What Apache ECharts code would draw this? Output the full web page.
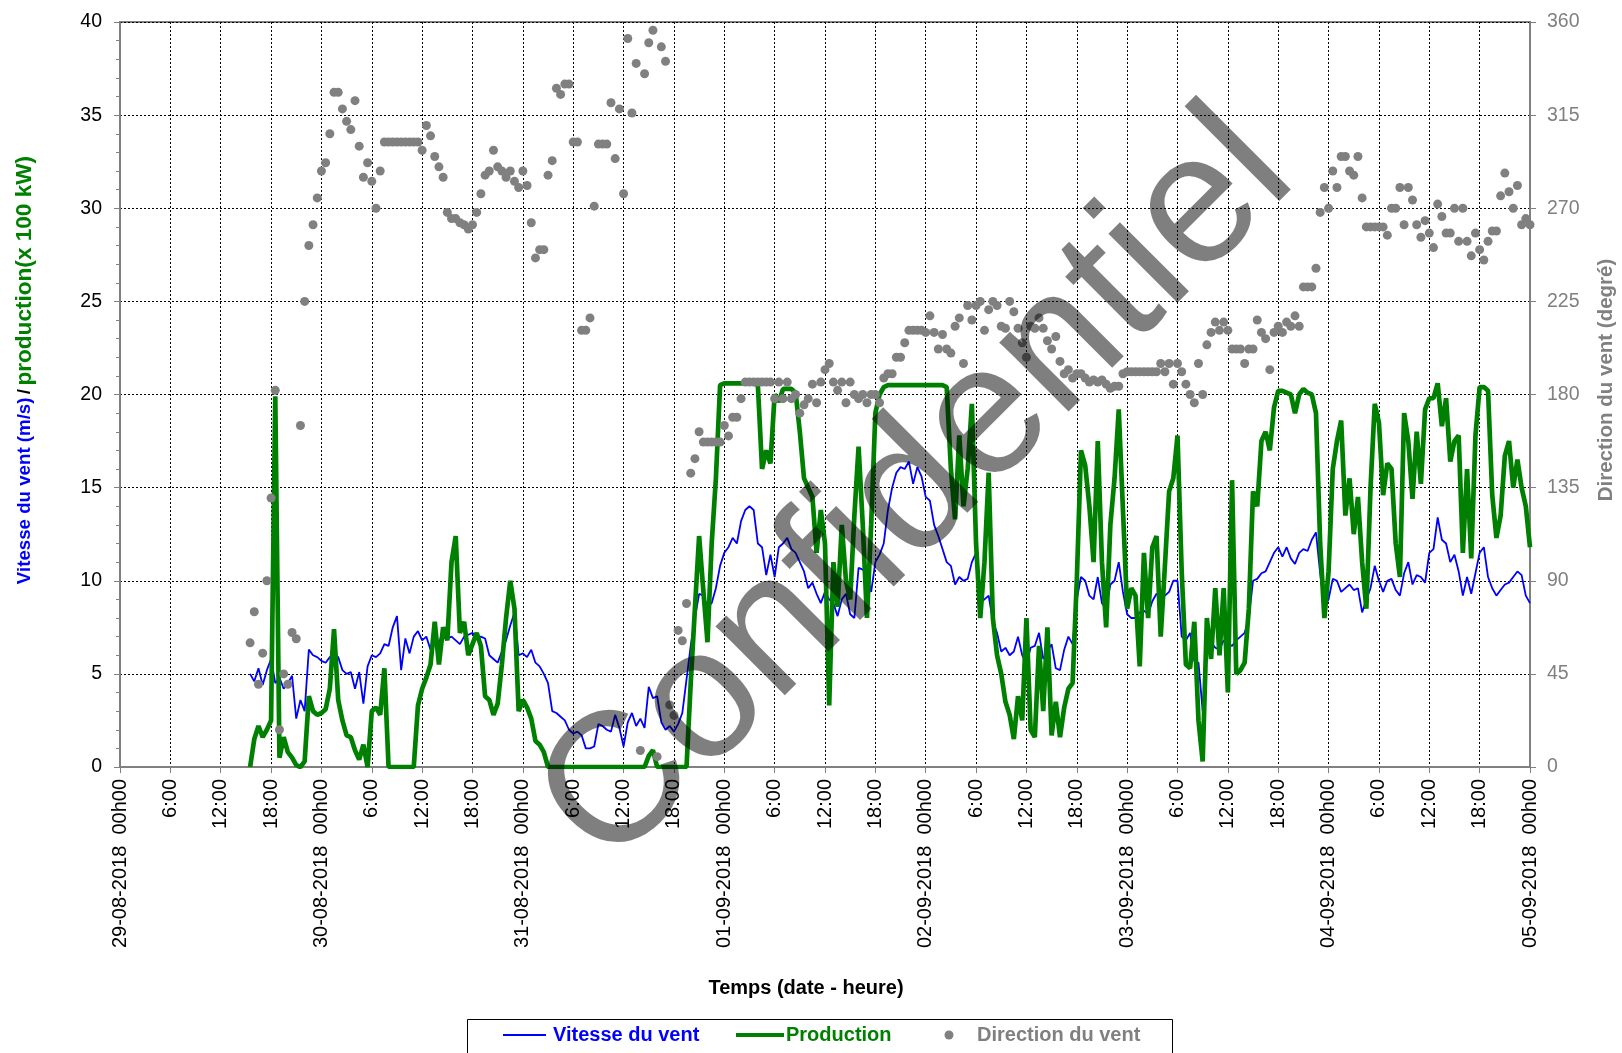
<!DOCTYPE html>
<html>
<head>
<meta charset="utf-8">
<script src="https://cdn.jsdelivr.net/npm/echarts@6/dist/echarts.min.js"></script>
<style>
html,body{margin:0;padding:0;background:#fff;}
#chart{width:1622px;height:1053px;}
</style>
</head>
<body>
<div id="chart"></div>
<script>
// ---- time axis (hours since 29-08-2018 00h00), 30-min samples from 15h30 ----
const startHour = 15.5;
const stepHour = 0.5;
const dayLabels = ['29-08-2018','30-08-2018','31-08-2018','01-09-2018','02-09-2018','03-09-2018','04-09-2018','05-09-2018'];
const hourLabels = ['00h00','6:00','12:00','18:00'];
const leftTicks = [0,5,10,15,20,25,30,35,40];
const rightTicks = [0,45,90,135,180,225,270,315,360];
const seriesNames = ['Vitesse du vent','Production','Direction du vent'];

// Vitesse du vent (m/s)
const windSpeed = [
 5.0, 4.6, 5.3, 4.4, 5.2, 5.8,
 4.5, 4.8, 4.2, 4.5, 4.9, 2.6, 3.6, 3.0, 6.3, 6.0, 5.9, 5.7,
 5.6, 5.9, 6.1, 5.9, 5.2, 5.0, 5.1, 4.2, 5.1, 3.4, 5.4, 6.0,
 5.9, 6.1, 6.6, 6.5, 7.5, 8.1, 5.2, 6.9, 6.1, 7.0, 7.3, 6.8,
 7.0, 6.3, 7.2, 6.6, 7.4, 6.9, 7.0, 6.8, 6.6, 7.0, 7.1, 7.2,
 6.9, 7.0, 6.9, 6.0, 5.8, 5.6, 6.2, 6.8, 7.6, 8.3, 6.0, 6.1,
 5.9, 6.3, 5.6, 5.4, 5.0, 4.5, 3.0, 2.9, 2.7, 2.5, 2.0, 1.8,
 1.9, 1.7, 1.0, 1.0, 1.1, 2.3, 2.2, 2.0, 1.9, 2.8, 2.1, 1.1,
 2.4, 2.9, 2.2, 2.6, 2.1, 4.3, 3.7, 3.8, 2.4, 2.0, 2.2, 1.9,
 2.3, 2.9, 4.7, 6.5, 8.0, 9.3, 9.2, 8.6, 8.8, 9.6, 10.8, 11.5,
 11.8, 12.3, 12.0, 13.2, 13.8, 14.0, 13.8, 12.0, 11.8, 10.3, 11.4, 10.2,
 11.8, 12.0, 12.3, 11.7, 11.5, 11.0, 10.5, 9.6, 9.9, 9.3, 8.8, 9.4,
 9.0, 8.8, 8.1, 9.0, 9.3, 8.2, 8.0, 10.7, 10.6, 10.3, 9.4, 11.0,
 11.4, 12.0, 13.8, 15.0, 15.8, 16.1, 16.0, 16.4, 15.2, 16.1, 15.6, 14.5,
 14.3, 13.0, 12.4, 11.7, 11.0, 10.8, 9.8, 10.2, 10.0, 10.1, 11.0, 11.5,
 8.8, 9.0, 9.2, 7.8, 7.2, 6.2, 6.4, 6.0, 6.2, 7.0, 6.0, 5.5,
 6.4, 6.5, 7.2, 5.8, 6.2, 6.6, 5.3, 5.2, 6.3, 7.0, 6.6, 9.0,
 10.2, 10.0, 9.2, 9.0, 10.2, 8.8, 8.5, 9.8, 10.0, 11.0, 9.4, 8.2,
 8.0, 8.0, 8.3, 8.4, 8.2, 8.9, 9.3, 9.1, 9.2, 9.4, 10.0, 10.0,
 7.0, 6.8, 7.2, 5.7, 5.6, 3.0, 6.5, 6.7, 6.4, 6.3, 6.8, 6.6,
 6.5, 6.8, 7.0, 7.2, 8.0, 10.0, 10.1, 10.4, 10.5, 11.0, 11.5, 11.8,
 11.3, 11.8, 11.2, 10.9, 11.5, 11.7, 11.6, 12.2, 12.6, 10.4, 8.6, 9.0,
 10.1, 10.0, 9.4, 9.6, 9.8, 9.5, 9.6, 8.3, 9.0, 9.6, 10.8, 10.0,
 9.4, 10.0, 10.1, 9.5, 9.2, 10.4, 11.0, 9.8, 10.3, 10.2, 9.9, 11.5,
 11.7, 13.4, 12.2, 12.0, 11.0, 11.4, 10.5, 9.2, 10.2, 9.3, 10.4, 11.5,
 11.8, 10.2, 9.6, 9.2, 9.5, 9.8, 9.9, 10.2, 10.5, 10.3, 9.2, 8.8
];

// Production (x 100 kW)
const production = [
 0, 1.5, 2.2, 1.6, 2.0, 2.5,
 19.9, 0.5, 1.6, 0.8, 0.5, 0.1, 0, 0.3, 3.8, 3.0, 2.8, 2.9,
 3.1, 4.2, 7.4, 3.6, 2.5, 1.7, 1.6, 0.9, 0.4, 1.2, 0, 3.0,
 3.2, 2.8, 5.3, 0, 0, 0, 0, 0, 0, 0, 3.3, 4.2,
 4.8, 5.5, 7.8, 5.5, 7.5, 6.8, 11.0, 12.4, 7.2, 7.8, 6.0, 6.6,
 7.2, 6.5, 3.8, 3.6, 2.8, 3.4, 5.5, 8.0, 10.0, 8.5, 3.0, 3.6,
 3.2, 2.6, 1.4, 1.2, 0.8, 0, 0, 0, 0, 0, 0, 0,
 0, 0, 0, 0, 0, 0, 0, 0, 0, 0, 0, 0,
 0, 0, 0, 0, 0, 0.6, 0.9, 0, 0, 0, 0, 0,
 0, 0, 0, 4.5, 8.5, 12.4, 9.5, 6.7, 12.0, 15.5, 20.5, 20.6,
 20.6, 20.6, 20.6, 20.6, 20.6, 20.6, 20.6, 20.5, 16.0, 17.0, 16.3, 20.0,
 19.6, 20.3, 20.3, 20.3, 20.1, 18.0, 15.5, 15.0, 14.5, 11.5, 13.8, 12.0,
 3.3, 11.0, 8.6, 13.0, 10.0, 9.0, 13.5, 17.2, 13.0, 8.0, 13.0, 19.0,
 20.0, 20.4, 20.5, 20.5, 20.5, 20.5, 20.5, 20.5, 20.5, 20.5, 20.5, 20.5,
 20.5, 20.5, 20.5, 20.5, 20.4, 16.0, 13.3, 17.8, 14.0, 16.0, 19.5, 12.0,
 8.0, 11.0, 15.8, 8.0, 6.0, 5.0, 3.5, 2.8, 1.5, 3.8, 2.5, 8.0,
 2.0, 1.6, 6.5, 3.0, 7.5, 1.7, 3.5, 1.6, 3.2, 4.2, 4.5, 10.0,
 17.0, 16.2, 14.0, 11.0, 17.5, 11.0, 7.5, 13.0, 15.5, 19.2, 13.8, 8.5,
 9.6, 9.2, 5.4, 11.5, 8.0, 11.8, 12.4, 7.0, 10.8, 14.8, 15.5, 17.8,
 10.5, 5.5, 5.3, 7.8, 2.5, 0.3, 8.0, 5.8, 9.6, 6.0, 9.6, 4.0,
 15.4, 5.0, 5.2, 5.6, 8.5, 14.8, 14.0, 17.5, 18.0, 17.0, 19.3, 20.2,
 20.2, 20.1, 20.0, 19.0, 20.0, 20.3, 20.1, 20.0, 19.0, 12.0, 8.0, 10.5,
 16.0, 17.5, 18.6, 13.5, 15.5, 12.5, 14.5, 11.0, 8.5, 15.0, 19.5, 18.5,
 14.6, 16.3, 16.0, 12.0, 10.2, 19.0, 17.5, 14.4, 18.0, 15.2, 19.2, 19.8,
 19.8, 20.6, 18.3, 19.8, 16.4, 17.5, 17.8, 11.5, 16.0, 11.2, 17.8, 20.4,
 20.4, 20.2, 14.6, 12.3, 13.5, 16.7, 17.5, 15.0, 16.5, 15.0, 14.0, 11.8
];

// Direction du vent (degré)
const windDirection = [
 60, 75, 40, 55, 90, 130,
 182, 18, 45, 40, 65, 62, 165, 225, 252, 262, 275, 288,
 292, 306, 326, 326, 318, 312, 308, 322, 300, 285, 292, 283,
 270, 288, 302, 302, 302, 302, 302, 302, 302, 302, 302, 298,
 310, 305, 295, 290, 285, 268, 265, 265, 263, 262, 260, 262,
 268, 277, 286, 288, 298, 290, 288, 285, 288, 283, 280, 288,
 281, 263, 246, 250, 250, 286, 293, 328, 325, 330, 330, 302,
 302, 211, 211, 217, 271, 301, 301, 301, 321, 294, 318, 277,
 352, 316, 340, 8, 335, 350, 356, 5, 348, 341, 30, 25,
 66, 61, 79, 142, 149, 162, 157, 157, 157, 157, 157, 165,
 160, 169, 169, 178, 186, 186, 186, 186, 186, 186, 186, 178,
 186, 178, 186, 178, 180, 171, 175, 178, 185, 176, 186, 192,
 195, 186, 182, 186, 176, 186, 180, 178, 180, 176, 180, 180,
 176, 188, 190, 190, 198, 198, 205, 211, 211, 211, 211, 210,
 218, 210, 202, 209, 202, 200, 213, 217, 195, 223, 216, 223,
 225, 211, 221, 225, 223, 213, 212, 225, 220, 212, 205, 198,
 213, 212, 217, 212, 206, 202, 208, 196, 190, 192, 188, 190,
 190, 188, 186, 187, 186, 187, 185, 183, 184, 184, 190, 191,
 191, 191, 191, 191, 191, 191, 191, 195, 191, 195, 185, 195,
 191, 185, 180, 176, 195, 180, 204, 210, 215, 211, 215, 211,
 202, 202, 202, 195, 202, 202, 216, 210, 207, 192, 210, 213,
 210, 215, 213, 218, 213, 232, 232, 232, 241, 268, 280, 270,
 288, 280, 295, 295, 288, 286, 295, 275, 261, 261, 261, 261,
 261, 257, 270, 270, 280, 262, 280, 274, 262, 256, 264, 258,
 251, 272, 266, 258, 258, 270, 254, 270, 254, 247, 258, 250,
 245, 254, 259, 259, 276, 287, 278, 270, 281, 262, 265, 262
];

const FONT = "'Liberation Sans', Arial, sans-serif";
const BLUE = '#0000ff', GREEN = '#008000', GRAY = '#808080';

function pairs(arr){ return arr.map((v,i)=>[startHour + i*stepHour, v]); }

const chart = echarts.init(document.getElementById('chart'), null, {renderer:'canvas'});
const gridLine = {show:true, lineStyle:{color:'#000', width:1, type:[2,2]}};
const LEG_Y = 1035;

chart.setOption({
  animation:false,
  backgroundColor:'#fff',
  textStyle:{fontFamily:FONT},
  grid:{left:120, right:92, top:22, bottom:286, show:true, borderColor:GRAY, borderWidth:2, backgroundColor:'transparent'},
  xAxis:{
    type:'value', min:0, max:168, interval:6,
    axisLine:{show:true, lineStyle:{color:GRAY, width:2}},
    axisTick:{show:true, length:6, lineStyle:{color:GRAY, width:1}},
    splitLine:gridLine,
    axisLabel:{
      rotate:90, margin:12, fontSize:20, color:'#000', fontFamily:FONT,
      formatter:function(v){
        const h = Math.round(v) % 24;
        const d = Math.round(v) / 24;
        if (h === 0) return dayLabels[d] + '  ' + hourLabels[0];
        return hourLabels[h/6];
      }
    }
  },
  yAxis:[
    {
      type:'value', min:leftTicks[0], max:leftTicks[leftTicks.length-1], interval:leftTicks[1]-leftTicks[0], position:'left',
      axisLine:{show:true, lineStyle:{color:GRAY, width:2}},
      axisTick:{show:true, length:6, lineStyle:{color:GRAY, width:1}},
      minorTick:{show:true, splitNumber:5, length:4, lineStyle:{color:GRAY, width:1}},
      splitLine:gridLine,
      axisLabel:{margin:18, fontSize:19.5, color:'#000', fontFamily:FONT}
    },
    {
      type:'value', min:rightTicks[0], max:rightTicks[rightTicks.length-1], interval:rightTicks[1]-rightTicks[0], position:'right',
      axisLine:{show:true, lineStyle:{color:GRAY, width:2}},
      axisTick:{show:true, length:6, lineStyle:{color:GRAY, width:1}},
      splitLine:{show:false},
      axisLabel:{margin:17, fontSize:19.5, color:GRAY, fontFamily:FONT}
    }
  ],
  series:[
    {name:seriesNames[0], type:'line', xAxisIndex:0, yAxisIndex:0, data:pairs(windSpeed),
      symbol:'none', lineStyle:{color:BLUE, width:1.8}, itemStyle:{color:BLUE}, z:2},
    {name:seriesNames[1], type:'line', xAxisIndex:0, yAxisIndex:0, data:pairs(production),
      symbol:'none', lineStyle:{color:GREEN, width:4.7}, itemStyle:{color:GREEN}, z:3},
    {name:seriesNames[2], type:'scatter', xAxisIndex:0, yAxisIndex:1, data:pairs(windDirection),
      symbol:'circle', symbolSize:9, itemStyle:{color:GRAY, opacity:1}, z:4}
  ],
  graphic:[
    // axis titles
    {type:'text', x:25, y:370, rotation:Math.PI/2, z:50,
      style:{text:'{a|Vitesse du vent (m/s)} {s|/} {b|production(x 100 kW)}', align:'center', verticalAlign:'middle',
        rich:{
          a:{fontSize:18.7, fontWeight:'bold', fill:BLUE, color:BLUE, fontFamily:FONT},
          s:{fontSize:19, fontWeight:'bold', fill:'#000', color:'#000', fontFamily:FONT},
          b:{fontSize:22.6, fontWeight:'bold', fill:GREEN, color:GREEN, fontFamily:FONT}
        }}},
    {type:'text', x:1606, y:380, rotation:Math.PI/2, z:50,
      style:{text:'Direction du vent (degré)', align:'center', verticalAlign:'middle', fill:GRAY, font:'bold 20.5px ' + FONT}},
    {type:'text', x:806, y:988, z:50,
      style:{text:'Temps (date - heure)', align:'center', verticalAlign:'middle', fill:'#000', font:'bold 20px ' + FONT}},
    // legend
    {type:'rect', shape:{x:467.5, y:1019.5, width:705, height:60}, z:60,
      style:{fill:'#fff', stroke:'#000', lineWidth:1}},
    {type:'line', shape:{x1:503, y1:LEG_Y, x2:546, y2:LEG_Y}, z:61, style:{stroke:BLUE, lineWidth:2}},
    {type:'text', x:553, y:LEG_Y, z:61,
      style:{text:seriesNames[0], align:'left', verticalAlign:'middle', fill:BLUE, font:'bold 20px ' + FONT}},
    {type:'line', shape:{x1:736, y1:LEG_Y, x2:784, y2:LEG_Y}, z:61, style:{stroke:GREEN, lineWidth:4}},
    {type:'text', x:786, y:LEG_Y, z:61,
      style:{text:seriesNames[1], align:'left', verticalAlign:'middle', fill:GREEN, font:'bold 20px ' + FONT}},
    {type:'circle', shape:{cx:949, cy:LEG_Y, r:4.5}, z:61, style:{fill:GRAY}},
    {type:'text', x:977, y:LEG_Y, z:61,
      style:{text:seriesNames[2], align:'left', verticalAlign:'middle', fill:GRAY, font:'bold 20px ' + FONT}},
    // watermark
    {type:'text', x:918, y:490, rotation:Math.PI/4, z:100,
      style:{text:'Confidentiel', align:'center', verticalAlign:'middle', fill:'rgba(0,0,0,0.5)', font:'185px ' + FONT}}
  ]
});
</script>
</body>
</html>
